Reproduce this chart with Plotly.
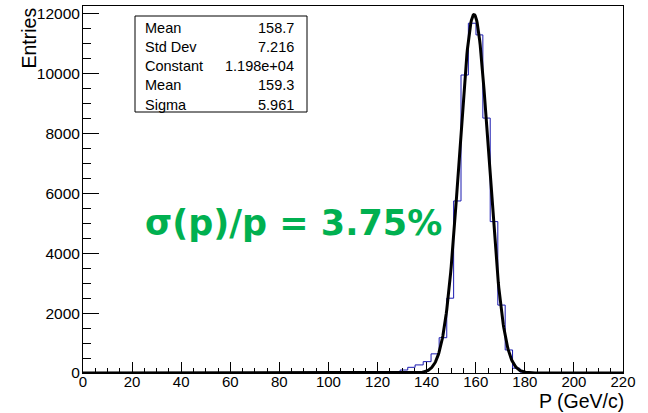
import numpy as np
import plotly.graph_objects as go

# ---- data ----
bin_edges = [123.0, 126.1, 129.2, 132.3, 135.3, 138.6, 141.8, 145.1, 148.2, 151.0,
             154.0, 157.0, 160.1, 162.9, 165.9, 169.0, 172.0, 175.0, 178.0, 181.0]
bin_counts = [20, 50, 100, 190, 270, 380, 640, 1180, 2500, 5750,
              9960, 11690, 11300, 8520, 5060, 2270, 770, 160, 30]

stat_labels = ["Mean", "Std Dev", "Constant", "Mean", "Sigma"]
stat_values = ["158.7", "7.216", "1.198e+04", "159.3", "5.961"]

# Gaussian fit parameters (from the stats box)
fit_constant = 11980.0
fit_mean = 159.3
fit_sigma = 5.961

x_range = [0, 220]
y_range = [0, 12266]
x_ticks = [0, 20, 40, 60, 80, 100, 120, 140, 160, 180, 200, 220]
y_ticks = [0, 2000, 4000, 6000, 8000, 10000, 12000]

# ---- layout geometry (pixels) ----
W, H = 648, 413
L, R, T, B = 83, 25, 6, 40
PW, PH = W - L - R, H - T - B


def px(xp):
    return (xp - L) / PW


def py(yp):
    return (H - B - yp) / PH


# histogram outline (step)
hx = [x_range[0]] + bin_edges + [x_range[1]]
hy = [0] + bin_counts + [0, 0]

# fit curve
fx = np.linspace(x_range[0], x_range[1], 1101)
fy = fit_constant * np.exp(-0.5 * ((fx - fit_mean) / fit_sigma) ** 2)

fig = go.Figure()
fig.add_trace(go.Scatter(x=hx, y=hy, mode="lines", line=dict(shape="hv", color="#1a1ab0", width=1),
                         hoverinfo="skip"))
fig.add_trace(go.Scatter(x=fx, y=fy, mode="lines", line=dict(color="black", width=3),
                         hoverinfo="skip"))

font_main = "Liberation Sans, Arial, sans-serif"

fig.update_layout(
    width=W, height=H,
    margin=dict(l=L, r=R, t=T, b=B, pad=0),
    plot_bgcolor="white", paper_bgcolor="white",
    showlegend=False,
    font=dict(family=font_main, size=14.5, color="black"),
)
fig.update_xaxes(
    range=x_range, tickvals=x_ticks, ticktext=[str(v) for v in x_ticks],
    ticks="inside", ticklen=11, tickcolor="black", tickwidth=1,
    minor=dict(dtick=5, ticks="inside", ticklen=5.5, tickcolor="black"),
    showline=True, mirror=True, linecolor="black", linewidth=1, showgrid=False, zeroline=False,
    tickfont=dict(family=font_main, size=15, color="black"), ticklabelstandoff=-5,
)
fig.update_yaxes(
    range=y_range, tickvals=y_ticks, ticktext=[str(v) for v in y_ticks],
    ticks="inside", ticklen=16, tickcolor="black", tickwidth=1,
    minor=dict(dtick=500, ticks="inside", ticklen=8, tickcolor="black"),
    showline=True, mirror=True, linecolor="black", linewidth=1, showgrid=False, zeroline=False,
    tickfont=dict(family=font_main, size=15.5, color="black"), ticklabelstandoff=-1,
)

# stats box
fig.add_shape(type="rect", xref="paper", yref="paper",
              x0=px(135), x1=px(307), y0=py(112), y1=py(16),
              line=dict(color="black", width=1), fillcolor="white")
for i, (lab, val) in enumerate(zip(stat_labels, stat_values)):
    yc = 27.5 + 19.3 * i
    fig.add_annotation(xref="paper", yref="paper", x=px(143), y=py(yc), text=lab,
                       showarrow=False, xanchor="left", yanchor="middle",
                       font=dict(family=font_main, size=14.5, color="black"))
    fig.add_annotation(xref="paper", yref="paper", x=px(296), y=py(yc), text=val,
                       showarrow=False, xanchor="right", yanchor="middle",
                       font=dict(family=font_main, size=14.5, color="black"))

# axis titles
fig.add_annotation(xref="paper", yref="paper", x=px(28), y=py(6), text="Entries",
                   textangle=-90, showarrow=False, xanchor="center", yanchor="top",
                   font=dict(family=font_main, size=19.5, color="black"))
fig.add_annotation(xref="paper", yref="paper", x=px(626), y=py(414), text="P (GeV/c)",
                   showarrow=False, xanchor="right", yanchor="bottom",
                   font=dict(family=font_main, size=19.5, color="black"))

# resolution label
fig.add_annotation(xref="paper", yref="paper", x=px(293), y=py(223), text="<b>σ(p)/p = 3.75%</b>",
                   showarrow=False, xanchor="center", yanchor="middle",
                   font=dict(family="DejaVu Sans, sans-serif", size=35, color="#00b050"))

fig.write_html("out.html")
